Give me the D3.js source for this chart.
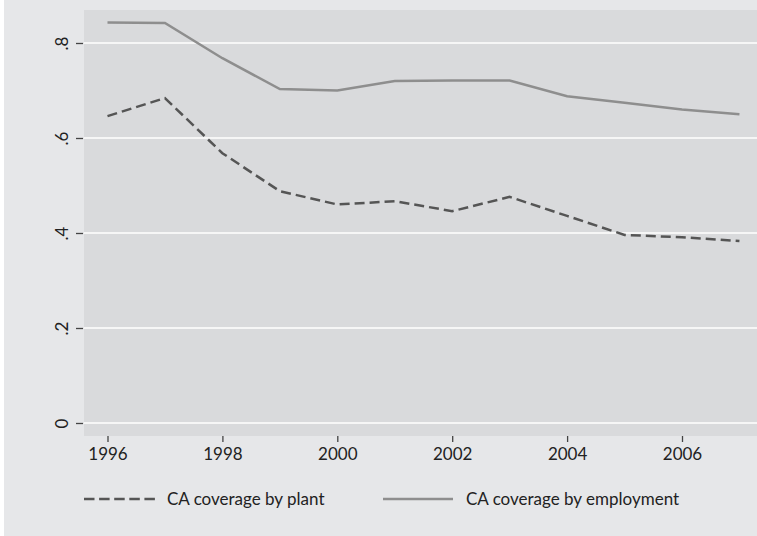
<!DOCTYPE html>
<html lang="en">
<head>
    <meta charset="utf-8">
    <title>CA coverage</title>
    <style>
        body { margin: 0; background: #fff; }
        text { font-family: Lato, sans-serif; fill: #222; }
    </style>
</head>
<body>
    <script src="https://d3js.org/d3.v7.min.js"></script>
    <script>
    var years = [1996, 1997, 1998, 1999, 2000, 2001, 2002, 2003, 2004, 2005, 2006, 2007];
    var byPlant = [0.646, 0.684, 0.568, 0.488, 0.460, 0.467, 0.446, 0.476, 0.436, 0.396, 0.391, 0.383];
    var byEmployment = [0.843, 0.842, 0.768, 0.703, 0.700, 0.720, 0.721, 0.721, 0.688, 0.674, 0.660, 0.650];
    var yTicks = [0, 0.2, 0.4, 0.6, 0.8];
    var yTickLabels = ["0", ".2", ".4", ".6", ".8"];
    var xTicks = [1996, 1998, 2000, 2002, 2004, 2006];
    var seriesNames = ["CA coverage by plant", "CA coverage by employment"];

    var w = 757, h = 536;
    var plot = {left: 84, top: 10, right: 757, bottom: 436};

    var svg = d3.select("body").append("svg")
        .attr("width", w).attr("height", h);

    // outer and inner backgrounds
    svg.append("rect").attr("x", 4).attr("y", 0).attr("width", w - 4).attr("height", h)
        .attr("fill", "#e6e7e9");
    svg.append("rect").attr("x", plot.left).attr("y", plot.top)
        .attr("width", plot.right - plot.left).attr("height", plot.bottom - plot.top)
        .attr("fill", "#d9dadc");

    var x = d3.scaleLinear().domain([1996, 2006]).range([107.5, 682]);
    var y = d3.scaleLinear().domain([0, 0.8]).range([423, 43]);

    // grid lines
    svg.append("g").selectAll("line").data(yTicks).enter().append("line")
        .attr("x1", plot.left).attr("x2", plot.right)
        .attr("y1", function(d) { return y(d); }).attr("y2", function(d) { return y(d); })
        .attr("stroke", "#fff").attr("stroke-width", 1.5);

    // y axis
    var yAxis = svg.append("g").attr("transform", "translate(" + (plot.left - 1) + ",0)")
        .call(d3.axisLeft(y).tickValues(yTicks).tickSize(7).tickPadding(0)
            .tickFormat(function(d, i) { return yTickLabels[i]; }));
    yAxis.select(".domain").remove();
    yAxis.selectAll(".tick line").attr("stroke", "#444").attr("stroke-width", 1.3);
    yAxis.selectAll(".tick text")
        .attr("x", 0).attr("dy", 0)
        .attr("transform", "translate(-15,0) rotate(-90)")
        .attr("text-anchor", "middle")
        .style("font-size", "17px").style("font-family", "Lato, sans-serif").attr("fill", "#222");

    // x axis
    var xAxis = svg.append("g").attr("transform", "translate(0," + plot.bottom + ")")
        .call(d3.axisBottom(x).tickValues(xTicks).tickSize(6).tickPadding(6)
            .tickFormat(d3.format("d")));
    xAxis.select(".domain").remove();
    xAxis.selectAll(".tick line").attr("stroke", "#444").attr("stroke-width", 1.3);
    xAxis.selectAll(".tick text")
        .style("font-size", "17px").style("font-family", "Lato, sans-serif").attr("fill", "#222");

    // lines
    var line = d3.line()
        .x(function(d, i) { return x(years[i]); })
        .y(function(d) { return y(d); });

    svg.append("path").datum(byEmployment)
        .attr("d", line).attr("fill", "none")
        .attr("stroke", "#8e8e8e").attr("stroke-width", 2.5);

    svg.append("path").datum(byPlant)
        .attr("d", line).attr("fill", "none")
        .attr("stroke", "#555555").attr("stroke-width", 2.5)
        .attr("stroke-dasharray", "10,5");

    // legend
    var legend = svg.append("g");
    var legendItems = [
        {name: seriesNames[0], x1: 84, x2: 157, tx: 167, stroke: "#555555", dash: "10.5,4.6"},
        {name: seriesNames[1], x1: 383, x2: 453, tx: 466, stroke: "#8e8e8e", dash: null}
    ];
    legendItems.forEach(function(d) {
        legend.append("line").attr("x1", d.x1).attr("x2", d.x2)
            .attr("y1", 499).attr("y2", 499)
            .attr("stroke", d.stroke).attr("stroke-width", 2.5)
            .attr("stroke-dasharray", d.dash);
        legend.append("text").attr("x", d.tx).attr("y", 505)
            .style("font-size", "17px").text(d.name);
    });
    </script>
</body>
</html>
